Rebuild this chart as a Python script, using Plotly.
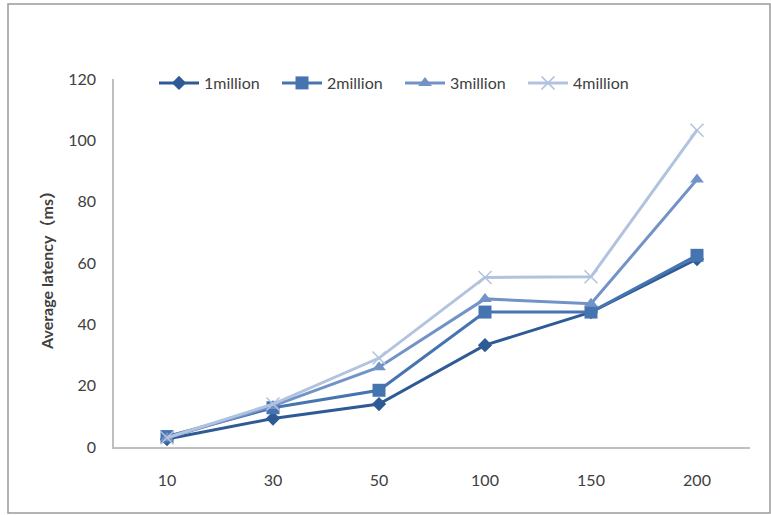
import plotly.graph_objects as go

categories = ["10", "30", "50", "100", "150", "200"]
series_names = ["1million", "2million", "3million", "4million"]
s1 = [2.6, 9.3, 14.0, 33.2, 44.0, 61.3]
s2 = [3.4, 12.8, 18.5, 44.0, 44.0, 62.5]
s3 = [2.9, 13.4, 26.0, 48.3, 46.7, 87.2]
s4 = [3.0, 14.0, 29.0, 55.3, 55.5, 103.3]
y_ticks = [0, 20, 40, 60, 80, 100, 120]

colors = ["#2E5B95", "#4674B1", "#7393C8", "#B1C3DE"]
symbols = ["diamond", "square", "triangle-up", "x-thin-open"]
sizes = [11, 13, 12, 13]

W, H = 771, 515
L, R, T, B = 114, 21, 79, 68
pw, ph = W - L - R, H - T - B

fig = go.Figure()
for name, vals, c, sym, sz in zip(series_names, [s1, s2, s3, s4], colors, symbols, sizes):
    marker = dict(symbol=sym, size=sz, color=c)
    if sym == "x-thin-open":
        marker["line"] = dict(color=c, width=1.5)
    fig.add_trace(go.Scatter(x=categories, y=vals, name=name, mode="lines+markers",
                             line=dict(color=c, width=3), marker=marker))

def px_x(px):
    return (px - L) / pw

def px_y(py):
    return (H - B - py) / ph

fig.add_shape(type="rect", xref="paper", yref="paper",
              x0=px_x(8), x1=px_x(770), y0=px_y(513), y1=px_y(4),
              line=dict(color="#9A9A9A", width=1.5), fillcolor="rgba(0,0,0,0)", layer="below")

fig.add_annotation(text="<b>Average latency（ms）</b>", xref="paper", yref="paper",
                   x=px_x(46), y=px_y(267), textangle=-90, showarrow=False,
                   xanchor="center", yanchor="middle",
                   font=dict(size=16, color="#404040"))

fig.update_layout(
    width=W, height=H,
    margin=dict(l=L, r=R, t=T, b=B),
    paper_bgcolor="white", plot_bgcolor="white",
    font=dict(family="Lato, 'Noto Sans CJK SC', sans-serif", size=16, color="#404040"),
    showlegend=True,
    legend=dict(orientation="h", x=px_x(154), y=px_y(66), xanchor="left", yanchor="top",
                entrywidth=68, entrywidthmode="pixels", bgcolor="rgba(0,0,0,0)",
                font=dict(size=16, color="#404040"), itemwidth=40, tracegroupgap=0),
    xaxis=dict(type="category", showgrid=False, showline=True, linecolor="#BFBFBF",
               linewidth=1.5, ticks="", tickfont=dict(size=16), ticklabelstandoff=18,
               range=[-0.5, 5.5]),
    yaxis=dict(range=[0, 120], tickvals=y_ticks, showgrid=False, showline=True,
               linecolor="#BFBFBF", linewidth=1.5, ticks="", zeroline=False,
               tickfont=dict(size=16), ticklabelstandoff=13),
)

fig.write_html("out.html")
